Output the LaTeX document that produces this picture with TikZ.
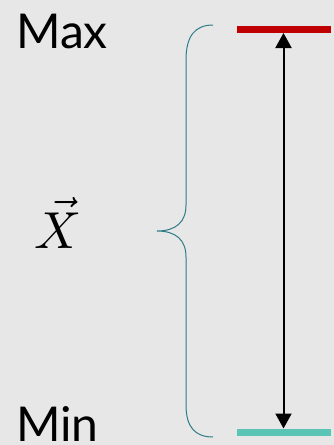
\documentclass[tikz,border=0pt]{standalone}
\usepackage{fontspec}
\setmainfont{Lato}
\usetikzlibrary{arrows.meta}
\definecolor{bg}{HTML}{E7E7E7}
\definecolor{maxred}{HTML}{C00000}
\definecolor{minteal}{HTML}{5BC5B5}
\definecolor{bracec}{HTML}{2E7C86}
\tikzset{
  lbl/.style={anchor=base west, inner sep=0pt, font=\fontsize{48}{48}\selectfont},
  bar/.style={line width=7pt},
  rng/.style={line width=2pt, {Triangle[width=16pt,length=15pt]}-{Triangle[width=16pt,length=15pt]}},
  brc/.style={bracec, line width=1pt}
}
\begin{document}
\begin{tikzpicture}[x=1pt,y=-1pt]
\fill[bg] (0,0) rectangle (334,445);
\useasboundingbox (0,0) rectangle (334,445);
\node[lbl] (max) at (16,48) {Max};
\node[lbl] (min) at (16,441) {Min};
\node[anchor=base, inner sep=0pt, scale=5.2] (x) at (58,248) {$\vec{X}$};
\coordinate (rL) at (237,29.5);
\coordinate (rR) at (331,29.5);
\coordinate (tL) at (237,432);
\coordinate (tR) at (331,432);
\draw[bar, maxred] (rL) -- (rR);
\draw[bar, minteal] (tL) -- (tR);
\coordinate (atop) at (283.5,33);
\coordinate (abot) at (283.5,428.5);
\draw[rng] (atop) -- (abot);
\draw[brc] (213,25) .. controls (195,25) and (186,36) .. (186,60) -- (186,205) .. controls (186,222) and (176,231) .. (157,231) .. controls (176,231) and (186,240) .. (186,257) -- (186,405) .. controls (186,427) and (195,437) .. (213,437);
\end{tikzpicture}
\end{document}
